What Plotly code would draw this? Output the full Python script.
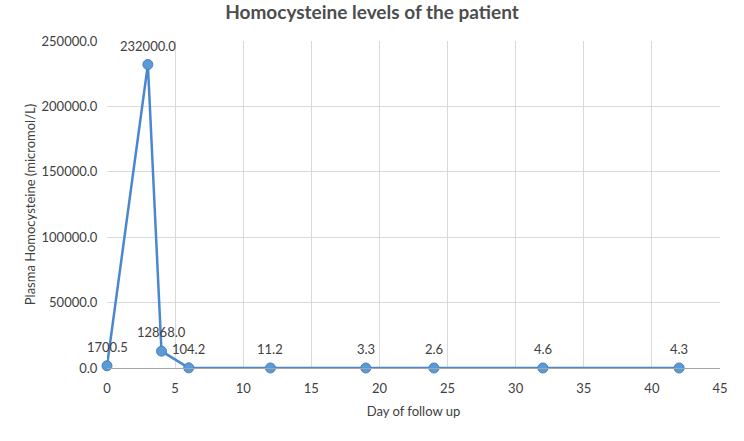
import plotly.graph_objects as go

days = [0, 3, 4, 6, 12, 19, 24, 32, 42]
homocysteine = [1700.5, 232000.0, 12868.0, 104.2, 11.2, 3.3, 2.6, 4.6, 4.3]
labels = ["1700.5", "232000.0", "12868.0", "104.2", "11.2", "3.3", "2.6", "4.6", "4.3"]

x_ticks = [0, 5, 10, 15, 20, 25, 30, 35, 40, 45]
y_ticks = [0, 50000, 100000, 150000, 200000, 250000]

font = "Lato, Open Sans, sans-serif"

fig = go.Figure()

fig.add_trace(
    go.Scatter(
        x=days,
        y=homocysteine,
        mode="lines+markers",
        line=dict(color="#4a87cf", width=2.5),
        marker=dict(size=10, color="#5b9bd5", line=dict(color="#4a7fc0", width=1)),
        cliponaxis=False,
        showlegend=False
    )
)

# data labels above each point
for d, v, t in zip(days, homocysteine, labels):
    fig.add_annotation(
        x=d, y=v, text=t,
        showarrow=False,
        yshift=19,
        font=dict(size=13, color="#404040")
    )

fig.update_layout(
    width=744,
    height=441,
    margin=dict(l=107, r=24, t=41, b=73),
    paper_bgcolor="white",
    plot_bgcolor="white",
    font=dict(family=font, size=13, color="#404040"),
    title=dict(
        text="<b>Homocysteine levels of the patient</b>",
        x=0.5,
        xanchor="center",
        y=0.972,
        yanchor="middle",
        font=dict(size=19, color="#4d4d4d", family=font)
    ),
    xaxis=dict(
        range=[0, 45],
        tickvals=x_ticks,
        showgrid=True,
        gridcolor="#d9d9d9",
        gridwidth=1,
        showline=True,
        linecolor="#a6a6a6",
        zeroline=False,
        ticks="outside",
        ticklen=8,
        tickcolor="rgba(0,0,0,0)",
        automargin=False,
        title=dict(text="Day of follow up", font=dict(size=13), standoff=12)
    ),
    yaxis=dict(
        range=[0, 250000],
        tickvals=y_ticks,
        tickformat=".1f",
        showgrid=True,
        gridcolor="#d9d9d9",
        gridwidth=1,
        zeroline=False,
        showline=False,
        ticks="outside",
        ticklen=6,
        tickcolor="rgba(0,0,0,0)",
        automargin=False,
        title=dict(text="Plasma Homocysteine (micromol/L)", font=dict(size=13), standoff=2)
    )
)

# the page body has a default 8px margin; drop it so the figure sits at the corner
fig.write_html(
    "out.html",
    config={"displayModeBar": False},
    post_script="document.body.style.margin='0';"
)
